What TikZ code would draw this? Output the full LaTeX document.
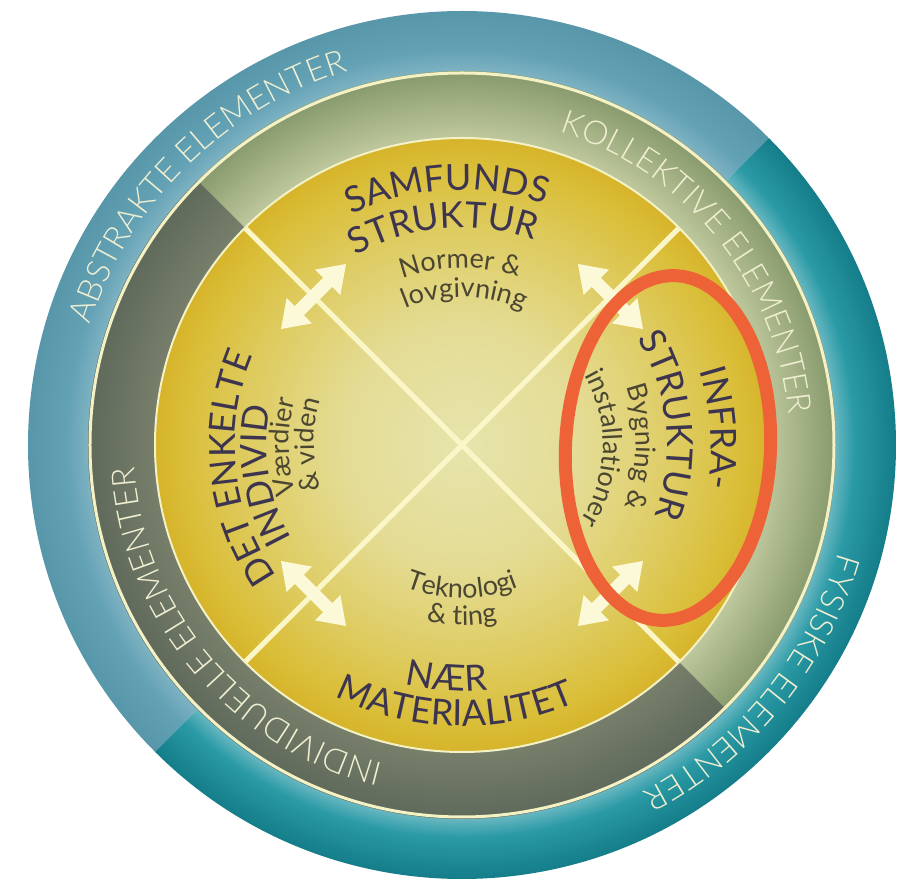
\documentclass[tikz,border=0pt]{standalone}
\usepackage{fontspec}
\setmainfont{Lato}
\newfontfamily\ringfam{Lato Light}
\usetikzlibrary{decorations.text}

\definecolor{bl1}{HTML}{80B4C3}
\definecolor{bl2}{HTML}{63A1B5}
\definecolor{bl3}{HTML}{5896AA}
\definecolor{tl1}{HTML}{6DB9C3}
\definecolor{tl2}{HTML}{2A9AA5}
\definecolor{tl3}{HTML}{147D89}
\definecolor{gr1}{HTML}{BEC89C}
\definecolor{gr2}{HTML}{899B6E}
\definecolor{dk1}{HTML}{777F6B}
\definecolor{dk2}{HTML}{606A5B}
\definecolor{y0}{HTML}{E7E4AC}
\definecolor{y1}{HTML}{E4DC95}
\definecolor{y2}{HTML}{DECB5E}
\definecolor{y3}{HTML}{DABE38}
\definecolor{y4}{HTML}{D6B42A}
\definecolor{creamline}{HTML}{F4F1C4}
\definecolor{diagc}{HTML}{FBF6C8}
\definecolor{arrowc}{HTML}{FCF9D8}
\definecolor{ringtxt}{HTML}{F0EFD2}
\definecolor{titletxt}{HTML}{3D3550}
\definecolor{subtxt}{HTML}{4B4632}
\definecolor{redc}{HTML}{EE6238}

% a circle path of radius R maps to 25bp in these shadings
\pgfdeclareradialshading{blueRing}{\pgfpoint{0bp}{0bp}}{color(0bp)=(bl1); color(21.43bp)=(bl1); color(22.8bp)=(bl2); color(25bp)=(bl3); color(50bp)=(bl3)}
\pgfdeclareradialshading{tealRing}{\pgfpoint{0bp}{0bp}}{color(0bp)=(tl1); color(21.43bp)=(tl1); color(22.6bp)=(tl2); color(25bp)=(tl3); color(50bp)=(tl3)}
\pgfdeclareradialshading{greenRing}{\pgfpoint{0bp}{0bp}}{color(0bp)=(gr1); color(17.68bp)=(gr1); color(21.43bp)=(gr2); color(50bp)=(gr2)}
\pgfdeclareradialshading{darkRing}{\pgfpoint{0bp}{0bp}}{color(0bp)=(dk1); color(17.68bp)=(dk1); color(21.43bp)=(dk2); color(50bp)=(dk2)}
\pgfdeclareradialshading{yellowDisk}{\pgfpoint{0bp}{0bp}}{color(0bp)=(y0); color(9.77bp)=(y1); color(17.92bp)=(y2); color(22.8bp)=(y3); color(25bp)=(y4); color(50bp)=(y4)}

\newcommand\ringfont{\ringfam\fontsize{33}{36}\selectfont}
\newcommand\titlefont{\fontsize{36}{40}\selectfont}
\newcommand\subfont{\fontsize{27}{30}\selectfont}

% clockwise arc text, tops outward: #1 centre angle, #2 baseline radius, #3 font, #4 colour, #5 text
\newcommand\cwtext[5]{%
  \path[decorate,decoration={text along path,text align=center,text color=#4,text={|#3|#5}}]
    (#1+90:#2) arc[start angle=#1+90,end angle=#1-90,radius=#2];}
% counter-clockwise arc text, tops inward
\newcommand\ccwtext[5]{%
  \path[decorate,decoration={text along path,text align=center,text color=#4,text={|#3|#5}}]
    (#1-90:#2) arc[start angle=#1-90,end angle=#1+90,radius=#2];}
\newcommand\dblarrow[1]{%
  \fill[arrowc,shift={(#1:210)},rotate=#1+90]
    (-46,0) -- (-20,18) -- (-20,6.5) -- (20,6.5) -- (20,18) -- (46,0)
    -- (20,-18) -- (20,-6.5) -- (-20,-6.5) -- (-20,-18) -- cycle;}

\tikzset{
  diag/.style={draw=diagc,line width=5pt},
  ringline/.style={draw=creamline,line width=3pt},
  diskline/.style={draw=creamline,line width=2pt},
  marker/.style={draw=redc,line width=13pt}
}

\begin{document}
\begin{tikzpicture}[x=1pt,y=1pt]
\useasboundingbox (-462,-437) rectangle (435,445);
\begin{scope}
\clip (-462,-437) rectangle (435,445);
% outer ring halves
\begin{scope}
\clip (45:434) arc[start angle=45,end angle=225,radius=434] -- (225:369) arc[start angle=225,end angle=45,radius=369] -- cycle;
\shade[shading=blueRing] (0,0) circle (434);
\end{scope}
\begin{scope}
\clip (225:434) arc[start angle=225,end angle=405,radius=434] -- (405:369) arc[start angle=405,end angle=225,radius=369] -- cycle;
\shade[shading=tealRing] (0,0) circle (434);
\end{scope}
% middle ring halves
\begin{scope}
\clip (-45:374) arc[start angle=-45,end angle=135,radius=374] -- (135:304) arc[start angle=135,end angle=-45,radius=304] -- cycle;
\shade[shading=greenRing] (0,0) circle (434);
\end{scope}
\begin{scope}
\clip (135:374) arc[start angle=135,end angle=315,radius=374] -- (315:304) arc[start angle=315,end angle=135,radius=304] -- cycle;
\shade[shading=darkRing] (0,0) circle (434);
\end{scope}
% inner disk
\shade[shading=yellowDisk] (0,0) circle (307);
\draw[ringline] (0,0) circle (372);
\draw[diskline] (0,0) circle (307);
% diagonals
\draw[diag] (135:306) -- (-45:306);
\draw[diag] (45:306) -- (225:306);
% double arrows
\dblarrow{135}
\dblarrow{45}
\dblarrow{225}
\dblarrow{-45}
% ring labels
\cwtext{134.5}{391}{\ringfont}{ringtxt}{ABSTRAKTE ELEMENTER}
\cwtext{39}{328}{\ringfont}{ringtxt}{KOLLEKTIVE ELEMENTER}
\cwtext{-39.3}{391}{\ringfont}{ringtxt}{FYSISKE ELEMENTER}
\cwtext{220}{328}{\ringfont}{ringtxt}{INDIVIDUELLE ELEMENTER}
% quadrant titles
\cwtext{93.3}{255}{\titlefont}{titletxt}{SAMFUNDS}
\cwtext{95}{217}{\titlefont}{titletxt}{STRUKTUR}
\cwtext{186}{227}{\titlefont}{titletxt}{DET ENKELTE}
\cwtext{188.7}{195}{\titlefont}{titletxt}{INDIVID}
\cwtext{3.7}{249}{\titlefont}{titletxt}{INFRA-}
\cwtext{5.4}{205}{\titlefont}{titletxt}{STRUKTUR}
\ccwtext{266.3}{246}{\titlefont}{titletxt}{NÆR}
\ccwtext{268.5}{281}{\titlefont}{titletxt}{MATERIALITET}
% subtitles
\cwtext{90.6}{177}{\subfont}{subtxt}{Normer {\&}}
\cwtext{89}{148}{\subfont}{subtxt}{lovgivning}
\cwtext{180.6}{173}{\subfont}{subtxt}{Værdier}
\cwtext{180}{148}{\subfont}{subtxt}{{\&} viden}
\cwtext{-0.6}{174}{\subfont}{subtxt}{Bygning {\&}}
\cwtext{-1.5}{141}{\subfont}{subtxt}{installationer}
\ccwtext{270}{153}{\subfont}{subtxt}{Teknologi}
\ccwtext{270}{180}{\subfont}{subtxt}{{\&} ting}
% highlight ellipse
\draw[marker,rotate around={-2.6:(206,-3)}] (206,-3) ellipse[x radius=102.5,y radius=172.5];
\end{scope}
\end{tikzpicture}
\end{document}
